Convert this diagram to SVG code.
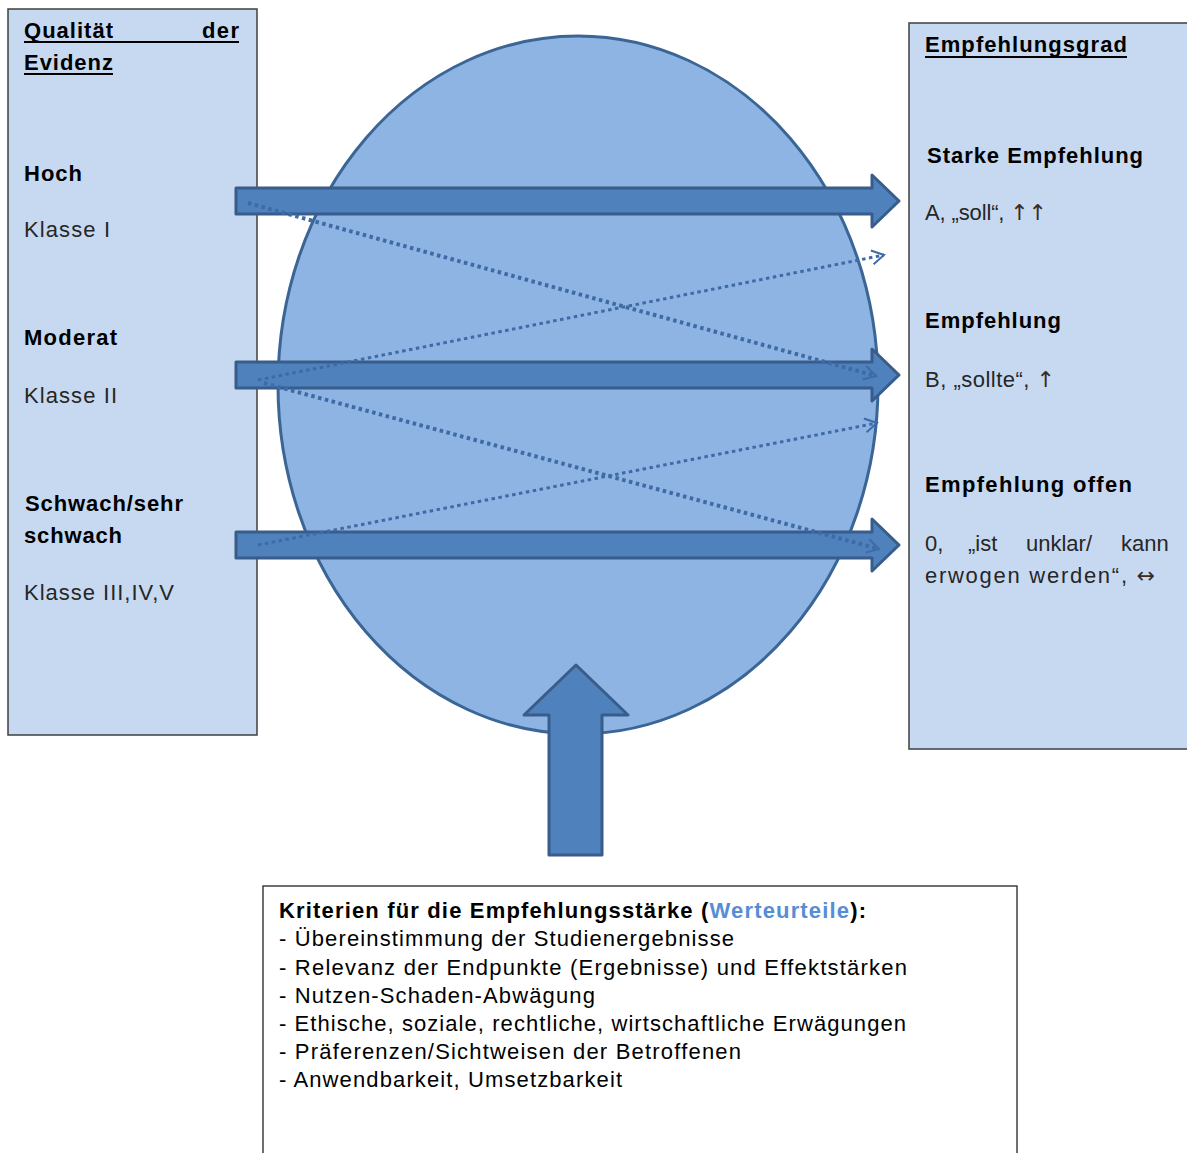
<svg xmlns="http://www.w3.org/2000/svg" width="1187" height="1153" viewBox="0 0 1187 1153">
<style>
.box{fill:#C6D9F1;stroke:#3F3F3F;stroke-width:1.5}
.wbox{fill:#FFFFFF;stroke:#3F3F3F;stroke-width:1.5}
.big{fill:#4F81BD;stroke:#385D8A;stroke-width:3;stroke-linejoin:round}
.dot{fill:none;stroke:#3E6BA6;stroke-dasharray:3.5 3.5}
.b{font-family:"Liberation Sans",Arial,sans-serif;font-weight:bold;font-size:22px;fill:#000}
.r{font-family:"Liberation Sans",Arial,sans-serif;font-size:22px;fill:#262626}
.k{font-family:"Liberation Sans",Arial,sans-serif;font-size:22px;fill:#000}
.kb{font-family:"Liberation Sans",Arial,sans-serif;font-size:22px;font-weight:bold;fill:#000}
.ar{font-family:"DejaVu Sans",sans-serif;fill:#3A2A20}
.ul{stroke:#000;stroke-width:2}
</style>
<defs>
<marker id="chev" markerUnits="userSpaceOnUse" markerWidth="20" markerHeight="20" refX="14" refY="8" orient="auto">
<path d="M2,1 L14,8 L2,15" fill="none" stroke="#3E6BA6" stroke-width="2"/>
</marker>
</defs>
<g id="quality">
<rect class="box" x="8" y="9" width="249" height="726"/>
<text class="b" x="24" y="38" textLength="89" lengthAdjust="spacing">Qualität</text>
<text class="b" x="202" y="38" textLength="37" lengthAdjust="spacing">der</text>
<line class="ul" x1="24" y1="42" x2="239" y2="42"/>
<text class="b" x="24" y="70" textLength="89" lengthAdjust="spacing">Evidenz</text>
<line class="ul" x1="24" y1="74" x2="113" y2="74"/>
<text class="b" x="24" y="181" textLength="58" lengthAdjust="spacing">Hoch</text>
<text class="r" x="24" y="237" textLength="86" lengthAdjust="spacing">Klasse  I</text>
<text class="b" x="24" y="345" textLength="93" lengthAdjust="spacing">Moderat</text>
<text class="r" x="24" y="403" textLength="93" lengthAdjust="spacing">Klasse  II</text>
<text class="b" x="25" y="511" textLength="158" lengthAdjust="spacing">Schwach/sehr</text>
<text class="b" x="24" y="543" textLength="98" lengthAdjust="spacing">schwach</text>
<text class="r" x="24" y="600" textLength="150" lengthAdjust="spacing">Klasse III,IV,V</text>
</g>
<g id="grade">
<rect class="box" x="909" y="23" width="290" height="726"/>
<text class="b" x="925" y="52" textLength="202" lengthAdjust="spacing">Empfehlungsgrad</text>
<line class="ul" x1="925" y1="57" x2="1127" y2="57"/>
<text class="b" x="927" y="163" textLength="216" lengthAdjust="spacing">Starke Empfehlung</text>
<text class="r" x="925" y="220" textLength="122" lengthAdjust="spacing">A, „soll“, <tspan class="ar">↑↑</tspan></text>
<text class="b" x="925" y="328" textLength="136" lengthAdjust="spacing">Empfehlung</text>
<text class="r" x="925" y="387" textLength="130" lengthAdjust="spacing">B, „sollte“, <tspan class="ar">↑</tspan></text>
<text class="b" x="925" y="492" textLength="207" lengthAdjust="spacing">Empfehlung offen</text>
<text class="r" y="551"><tspan x="925">0,</tspan><tspan x="968">„ist</tspan><tspan x="1026">unklar/</tspan><tspan x="1121">kann</tspan></text>
<text class="r" x="925" y="583" textLength="230" lengthAdjust="spacing">erwogen werden“, <tspan class="ar">↔</tspan></text>
</g>
<g id="weighing">
<ellipse cx="578" cy="385" rx="300" ry="349" fill="#8EB4E3" stroke="#3A6595" stroke-width="3"/>
</g>
<g id="connectors">
<path class="big" d="M236,188 H872 V175 L899,201 L872,227 V214 H236 Z"/>
<path class="big" d="M236,362 H872 V349 L899,375 L872,401 V388 H236 Z"/>
<path class="big" d="M236,532 H872 V519 L899,545 L872,571 V558 H236 Z"/>
<path class="big" d="M549,855 V715 H524 L576,665 L628,715 H602 V855 Z"/>
<line class="dot" x1="248" y1="203" x2="876" y2="376" stroke-width="4" marker-end="url(#chev)"/>
<line class="dot" x1="258" y1="380" x2="884" y2="255" stroke-width="3" marker-end="url(#chev)"/>
<line class="dot" x1="264" y1="383" x2="879" y2="549" stroke-width="4" marker-end="url(#chev)"/>
<line class="dot" x1="258" y1="545" x2="877" y2="423" stroke-width="3" marker-end="url(#chev)"/>
</g>
<g id="criteria">
<rect class="wbox" x="263" y="886" width="754" height="280"/>
<text class="kb" x="279" y="918" textLength="587" lengthAdjust="spacing">Kriterien für die Empfehlungsstärke (<tspan fill="#558ED5">Werteurteile</tspan>):</text>
<text class="k" x="279" y="946" textLength="455" lengthAdjust="spacing">- Übereinstimmung der Studienergebnisse</text>
<text class="k" x="279" y="975" textLength="628" lengthAdjust="spacing">- Relevanz der Endpunkte (Ergebnisse) und Effektstärken</text>
<text class="k" x="279" y="1003" textLength="316" lengthAdjust="spacing">- Nutzen-Schaden-Abwägung</text>
<text class="k" x="279" y="1031" textLength="627" lengthAdjust="spacing">- Ethische, soziale, rechtliche, wirtschaftliche Erwägungen</text>
<text class="k" x="279" y="1059" textLength="462" lengthAdjust="spacing">- Präferenzen/Sichtweisen der Betroffenen</text>
<text class="k" x="279" y="1087" textLength="343" lengthAdjust="spacing">- Anwendbarkeit, Umsetzbarkeit</text>
</g>
</svg>
